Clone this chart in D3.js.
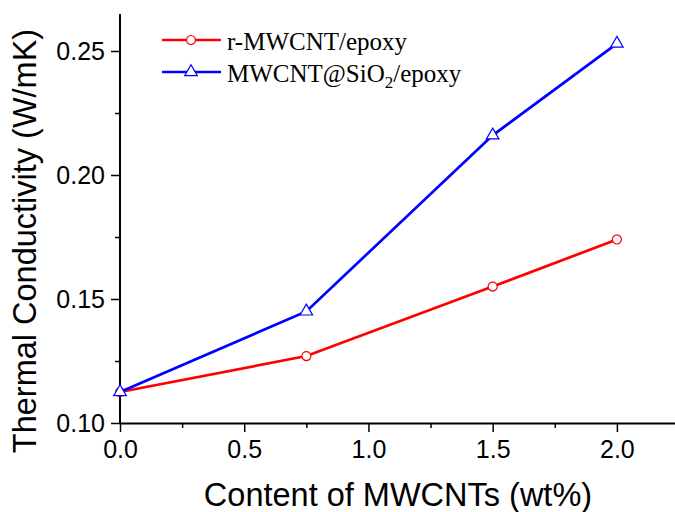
<!DOCTYPE html>
<html>
<head>
<meta charset="utf-8">
<script src="https://cdn.jsdelivr.net/npm/d3@7"></script>
<style>
  body { margin: 0; background: #fff; }
  svg { display: block; }
</style>
</head>
<body>
<svg id="chart" width="675" height="512"></svg>
<script>
// donnees
const contents = [0, 0.75, 1.5, 2.0];
const rMwcnt = [0.1125, 0.127, 0.155, 0.174];
const mwcntSiO2 = [0.1125, 0.145, 0.216, 0.253];
const xTicks = [0, 0.5, 1.0, 1.5, 2.0];
const xMinorTicks = [0.25, 0.75, 1.25, 1.75, 2.25];
const yTicks = [0.10, 0.15, 0.20, 0.25];
const yMinorTicks = [0.125, 0.175, 0.225];

const svg = d3.select("#chart");
const sans = "Arial, 'Liberation Sans', sans-serif";

// echelles
const x = d3.scaleLinear().domain([0, 2.25]).range([120, 679]);
const y = d3.scaleLinear().domain([0.10, 0.25]).range([423, 51]);

// axes (ticks vers l'exterieur)
const xAxis = svg.append("g").attr("transform", "translate(0,423)");
xAxis.call(d3.axisBottom(x).tickValues(xTicks).tickFormat(d3.format(".1f")).tickSize(9).tickSizeOuter(0));
xAxis.append("g").call(d3.axisBottom(x).tickValues(xMinorTicks).tickFormat("").tickSize(5).tickSizeOuter(0))
  .select(".domain").remove();

const yAxis = svg.append("g").attr("transform", "translate(120,0)");
yAxis.call(d3.axisLeft(y).tickValues(yTicks).tickFormat(d3.format(".2f")).tickSize(9).tickSizeOuter(0));
yAxis.append("g").call(d3.axisLeft(y).tickValues(yMinorTicks).tickFormat("").tickSize(5).tickSizeOuter(0))
  .select(".domain").remove();
// axe y prolonge jusqu'en haut
yAxis.select(".domain").attr("d", "M0,423V14");

svg.selectAll(".domain").attr("stroke", "#000").attr("stroke-width", 2);
svg.selectAll(".tick line").attr("stroke", "#000").attr("stroke-width", 1.5);
xAxis.selectAll(".tick text")
  .attr("font-family", sans).attr("font-size", 25)
  .attr("fill", "#000").attr("y", 17);
yAxis.selectAll(".tick text")
  .attr("font-family", sans).attr("font-size", 25)
  .attr("fill", "#000").attr("x", -15);

// titres
svg.append("text")
  .attr("transform", "translate(36,241) rotate(-90)")
  .attr("text-anchor", "middle")
  .attr("font-family", sans)
  .attr("font-size", 32.5)
  .text("Thermal Conductivity (W/mK)");

svg.append("text")
  .attr("x", 398).attr("y", 506)
  .attr("text-anchor", "middle")
  .attr("font-family", sans)
  .attr("font-size", 32.5)
  .text("Content of MWCNTs (wt%)");

// series
const series = [
  { name: "r-MWCNT/epoxy", values: rMwcnt, color: "#ff0000", marker: "circle" },
  { name: "MWCNT@SiO2/epoxy", values: mwcntSiO2, color: "#0000ff", marker: "triangle" }
];

const line = d3.line().x(d => x(d[0])).y(d => y(d[1]));
const circle = d3.symbol().type(d3.symbolCircle).size(64);
const triangle = d3.symbol().type(d3.symbolTriangle).size(68);

series.forEach(s => {
  const pts = contents.map((c, i) => [c, s.values[i]]);
  svg.append("path")
    .attr("d", line(pts))
    .attr("fill", "none")
    .attr("stroke", s.color)
    .attr("stroke-width", 2.7);
  svg.selectAll(null).data(pts).enter().append("path")
    .attr("d", s.marker === "circle" ? circle : triangle)
    .attr("transform", d => `translate(${x(d[0])},${y(d[1])})`)
    .attr("fill", "#fff")
    .attr("stroke", s.color)
    .attr("stroke-width", 1.2);
});

// legende
const legend = svg.append("g").attr("font-family", "'Times New Roman', 'Liberation Serif', serif").attr("font-size", 25);
series.forEach((s, i) => {
  const ly = 40 + i * 32;
  legend.append("line")
    .attr("x1", 162).attr("x2", 221).attr("y1", ly).attr("y2", ly)
    .attr("stroke", s.color).attr("stroke-width", 2.7);
  legend.append("path")
    .attr("d", s.marker === "circle" ? circle : triangle)
    .attr("transform", `translate(191,${ly})`)
    .attr("fill", "#fff").attr("stroke", s.color).attr("stroke-width", 1.2);
  const t = legend.append("text").attr("x", 227).attr("y", ly + 9.5).attr("fill", "#000");
  if (i === 0) {
    t.text(s.name);
  } else {
    t.append("tspan").text("MWCNT@SiO");
    t.append("tspan").attr("font-size", 17).attr("dy", 6).text("2");
    t.append("tspan").attr("dy", -6).text("/epoxy");
  }
});
</script>
</body>
</html>
